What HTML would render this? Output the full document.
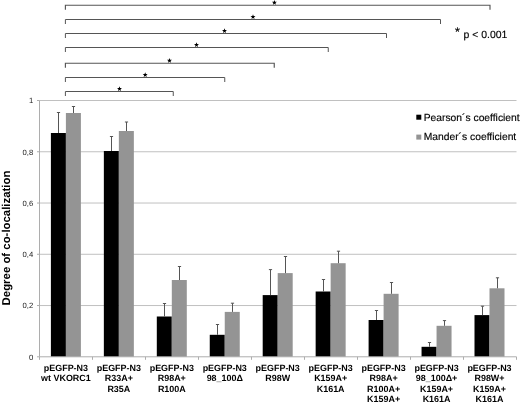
<!DOCTYPE html>
<html><head><meta charset="utf-8"><title>chart</title><style>
html,body{margin:0;padding:0;background:#fff}
svg{display:block;will-change:transform;font-family:"Liberation Sans",sans-serif;text-rendering:geometricPrecision}
.g{stroke:#c0c0c0;stroke-width:1}
.a{stroke:#adadad;stroke-width:1}
.e{stroke:#555;stroke-width:1;fill:none}
.b{stroke:#555;stroke-width:1;fill:none}
.t{font-size:7.7px;text-anchor:end;fill:#222}
.c{font-size:8.95px;font-weight:bold;text-anchor:middle;fill:#000}
.yt{font-size:11.4px;font-weight:bold;text-anchor:middle;fill:#000}
.l{font-size:10.3px;fill:#000;stroke:#000;stroke-width:.15}
.p{font-size:10.45px;fill:#000;stroke:#000;stroke-width:.15}
</style></head><body>
<svg width="520" height="403" viewBox="0 0 520 403">
<rect width="520" height="403" fill="#fff"/>
<line class="g" x1="39.5" x2="516.5" y1="305.54" y2="305.54"/>
<line class="g" x1="39.5" x2="516.5" y1="254.28" y2="254.28"/>
<line class="g" x1="39.5" x2="516.5" y1="203.02" y2="203.02"/>
<line class="g" x1="39.5" x2="516.5" y1="151.76" y2="151.76"/>
<line class="g" x1="39.5" x2="516.5" y1="100.50" y2="100.50"/>
<rect x="50.90" y="133.00" width="15" height="223.80" fill="#000"/>
<rect x="65.90" y="113.00" width="15" height="243.80" fill="#949494"/>
<path class="e" d="M58.50 133.00V112.50M56.90 112.50H60.10"/>
<path class="e" d="M73.50 113.00V106.50M71.90 106.50H75.10"/>
<rect x="103.85" y="151.00" width="15" height="205.80" fill="#000"/>
<rect x="118.85" y="131.00" width="15" height="225.80" fill="#949494"/>
<path class="e" d="M111.50 151.00V136.50M109.90 136.50H113.10"/>
<path class="e" d="M126.50 131.00V122.00M124.90 122.00H128.10"/>
<rect x="156.80" y="316.50" width="15" height="40.30" fill="#000"/>
<rect x="171.80" y="280.00" width="15" height="76.80" fill="#949494"/>
<path class="e" d="M164.50 316.50V303.50M162.90 303.50H166.10"/>
<path class="e" d="M179.50 280.00V266.50M177.90 266.50H181.10"/>
<rect x="209.75" y="334.80" width="15" height="22.00" fill="#000"/>
<rect x="224.75" y="311.90" width="15" height="44.90" fill="#949494"/>
<path class="e" d="M217.50 334.80V324.50M215.90 324.50H219.10"/>
<path class="e" d="M232.50 311.90V303.20M230.90 303.20H234.10"/>
<rect x="262.70" y="295.10" width="15" height="61.70" fill="#000"/>
<rect x="277.70" y="273.10" width="15" height="83.70" fill="#949494"/>
<path class="e" d="M270.50 295.10V269.60M268.90 269.60H272.10"/>
<path class="e" d="M285.50 273.10V256.50M283.90 256.50H287.10"/>
<rect x="315.65" y="291.50" width="15" height="65.30" fill="#000"/>
<rect x="330.65" y="263.20" width="15" height="93.60" fill="#949494"/>
<path class="e" d="M323.50 291.50V279.50M321.90 279.50H325.10"/>
<path class="e" d="M338.50 263.20V251.20M336.90 251.20H340.10"/>
<rect x="368.60" y="320.00" width="15" height="36.80" fill="#000"/>
<rect x="383.60" y="293.80" width="15" height="63.00" fill="#949494"/>
<path class="e" d="M376.50 320.00V310.50M374.90 310.50H378.10"/>
<path class="e" d="M391.50 293.80V282.50M389.90 282.50H393.10"/>
<rect x="421.55" y="346.80" width="15" height="10.00" fill="#000"/>
<rect x="436.55" y="325.80" width="15" height="31.00" fill="#949494"/>
<path class="e" d="M429.50 346.80V342.50M427.90 342.50H431.10"/>
<path class="e" d="M444.50 325.80V320.60M442.90 320.60H446.10"/>
<rect x="474.50" y="315.10" width="15" height="41.70" fill="#000"/>
<rect x="489.50" y="288.30" width="15" height="68.50" fill="#949494"/>
<path class="e" d="M482.50 315.10V306.20M480.90 306.20H484.10"/>
<path class="e" d="M497.50 288.30V277.80M495.90 277.80H499.10"/>
<line class="a" x1="39.5" x2="39.5" y1="100.50" y2="356.8"/>
<line class="a" x1="39.5" x2="516.5" y1="356.8" y2="356.8"/>
<line class="a" x1="37.0" x2="39.5" y1="356.80" y2="356.80"/>
<text class="t" x="33.2" y="359.60">0</text>
<line class="a" x1="37.0" x2="39.5" y1="305.54" y2="305.54"/>
<text class="t" x="33.2" y="308.34">0,2</text>
<line class="a" x1="37.0" x2="39.5" y1="254.28" y2="254.28"/>
<text class="t" x="33.2" y="257.08">0,4</text>
<line class="a" x1="37.0" x2="39.5" y1="203.02" y2="203.02"/>
<text class="t" x="33.2" y="205.82">0,6</text>
<line class="a" x1="37.0" x2="39.5" y1="151.76" y2="151.76"/>
<text class="t" x="33.2" y="154.56">0,8</text>
<line class="a" x1="37.0" x2="39.5" y1="100.50" y2="100.50"/>
<text class="t" x="33.2" y="103.30">1</text>
<line class="a" x1="39.50" x2="39.50" y1="356.8" y2="359.80"/>
<line class="a" x1="92.50" x2="92.50" y1="356.8" y2="359.80"/>
<line class="a" x1="145.50" x2="145.50" y1="356.8" y2="359.80"/>
<line class="a" x1="198.50" x2="198.50" y1="356.8" y2="359.80"/>
<line class="a" x1="251.50" x2="251.50" y1="356.8" y2="359.80"/>
<line class="a" x1="304.50" x2="304.50" y1="356.8" y2="359.80"/>
<line class="a" x1="357.50" x2="357.50" y1="356.8" y2="359.80"/>
<line class="a" x1="410.50" x2="410.50" y1="356.8" y2="359.80"/>
<line class="a" x1="463.50" x2="463.50" y1="356.8" y2="359.80"/>
<line class="a" x1="516.50" x2="516.50" y1="356.8" y2="359.80"/>
<text class="c" x="65.90" y="371.10">pEGFP-N3</text>
<text class="c" x="65.90" y="381.30">wt VKORC1</text>
<text class="c" x="118.85" y="371.10">pEGFP-N3</text>
<text class="c" x="118.85" y="381.30">R33A+</text>
<text class="c" x="118.85" y="391.50">R35A</text>
<text class="c" x="171.80" y="371.10">pEGFP-N3</text>
<text class="c" x="171.80" y="381.30">R98A+</text>
<text class="c" x="171.80" y="391.50">R100A</text>
<text class="c" x="224.75" y="371.10">pEGFP-N3</text>
<text class="c" x="224.75" y="381.30">98_100Δ</text>
<text class="c" x="277.70" y="371.10">pEGFP-N3</text>
<text class="c" x="277.70" y="381.30">R98W</text>
<text class="c" x="330.65" y="371.10">pEGFP-N3</text>
<text class="c" x="330.65" y="381.30">K159A+</text>
<text class="c" x="330.65" y="391.50">K161A</text>
<text class="c" x="383.60" y="371.10">pEGFP-N3</text>
<text class="c" x="383.60" y="381.30">R98A+</text>
<text class="c" x="383.60" y="391.50">R100A+</text>
<text class="c" x="383.60" y="401.70">K159A+</text>
<text class="c" x="436.55" y="371.10">pEGFP-N3</text>
<text class="c" x="436.55" y="381.30">98_100Δ+</text>
<text class="c" x="436.55" y="391.50">K159A+</text>
<text class="c" x="436.55" y="401.70">K161A</text>
<text class="c" x="489.50" y="371.10">pEGFP-N3</text>
<text class="c" x="489.50" y="381.30">R98W+</text>
<text class="c" x="489.50" y="391.50">K159A+</text>
<text class="c" x="489.50" y="401.70">K161A</text>
<text class="yt" transform="translate(10.4,238.0) rotate(-90)">Degree of co-localization</text>
<rect x="416.3" y="114.7" width="5" height="5" fill="#000"/>
<rect x="416.3" y="134.6" width="5" height="5" fill="#949494"/>
<text class="l" x="423.7" y="120.6">Pearson´s coefficient</text>
<text class="l" x="423.7" y="140.2">Mander´s coefficient</text>
<text class="p" x="454.9" y="36.1" style="font-size:12.5px">*</text>
<text class="p" x="463.6" y="37.8">p &lt; 0.001</text>
<path class="b" style="stroke-width:1.15" d="M65.4 9.7V5.2H490V9.7"/>
<path class="b" d="M65.4 24.0V19.5H440.5V24.0"/>
<path class="b" d="M65.4 38.0V33.5H386.5V38.0"/>
<path class="b" d="M65.4 52.0V47.5H328.25V52.0"/>
<path class="b" style="stroke-width:1.15" d="M65.4 67.75V63.25H274.25V67.75"/>
<path class="b" d="M65.4 82.0V77.5H224.75V82.0"/>
<path class="b" d="M65.4 96.0V91.5H173.25V96.0"/>
<polygon points="274.40,0.00 275.04,1.72 276.87,1.80 275.44,2.94 275.93,4.70 274.40,3.69 272.87,4.70 273.36,2.94 271.93,1.80 273.76,1.72" fill="#000"/>
<polygon points="253.00,14.30 253.64,16.02 255.47,16.10 254.04,17.24 254.53,19.00 253.00,17.99 251.47,19.00 251.96,17.24 250.53,16.10 252.36,16.02" fill="#000"/>
<polygon points="224.50,28.30 225.14,30.02 226.97,30.10 225.54,31.24 226.03,33.00 224.50,31.99 222.97,33.00 223.46,31.24 222.03,30.10 223.86,30.02" fill="#000"/>
<polygon points="196.50,42.30 197.14,44.02 198.97,44.10 197.54,45.24 198.03,47.00 196.50,45.99 194.97,47.00 195.46,45.24 194.03,44.10 195.86,44.02" fill="#000"/>
<polygon points="169.50,58.05 170.14,59.77 171.97,59.85 170.54,60.99 171.03,62.75 169.50,61.74 167.97,62.75 168.46,60.99 167.03,59.85 168.86,59.77" fill="#000"/>
<polygon points="145.20,72.30 145.84,74.02 147.67,74.10 146.24,75.24 146.73,77.00 145.20,75.99 143.67,77.00 144.16,75.24 142.73,74.10 144.56,74.02" fill="#000"/>
<polygon points="119.50,86.30 120.14,88.02 121.97,88.10 120.54,89.24 121.03,91.00 119.50,89.99 117.97,91.00 118.46,89.24 117.03,88.10 118.86,88.02" fill="#000"/>
</svg>
</body></html>
